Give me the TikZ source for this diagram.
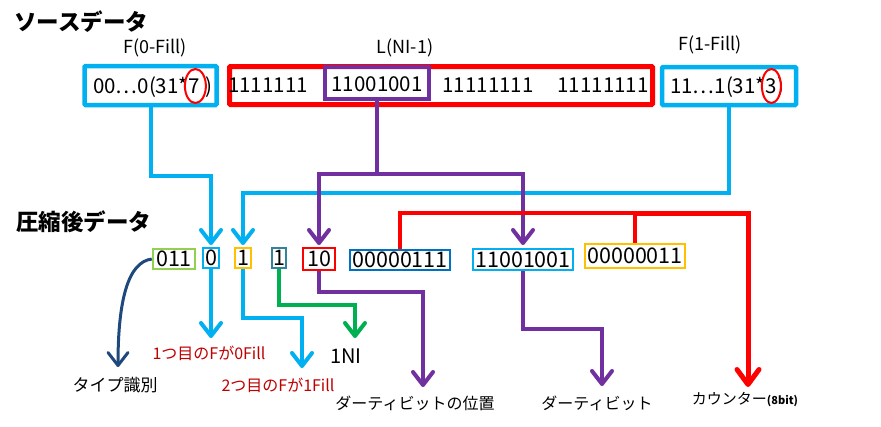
\documentclass[tikz,border=0pt]{standalone}
\usepackage{fontspec}
\setmainfont{Noto Sans CJK JP}
\usetikzlibrary{arrows.meta}
\definecolor{cy}{HTML}{00B0F0}
\definecolor{rd}{HTML}{FF0000}
\definecolor{pu}{HTML}{7030A0}
\definecolor{gr}{HTML}{00B050}
\definecolor{yl}{HTML}{FFC000}
\definecolor{lg}{HTML}{92D050}
\definecolor{tl}{HTML}{31849B}
\definecolor{db}{HTML}{0070C0}
\definecolor{nv}{HTML}{1F497D}
\definecolor{dr}{HTML}{C00000}
\begin{document}
\begin{tikzpicture}[x=1pt,y=-1pt,
  topbox/.style={draw, line width=4.5pt, rounded corners=1pt, inner sep=0pt},
  botbox/.style={draw, line width=2.5pt, inner sep=0pt, font=\fontsize{21.5}{21.5}\selectfont},
  dig/.style={inner sep=0pt, font=\fontsize{20.5}{20.5}\selectfont},
  bdig/.style={dig, anchor=base west},
  titletxt/.style={inner sep=0pt, anchor=west, font=\fontsize{22.5}{22.5}\selectfont\bfseries},
  captxt/.style={inner sep=0pt, font=\fontsize{18}{18}\selectfont},
  lab/.style={inner sep=0pt, font=\fontsize{16}{16}\selectfont},
  rlab/.style={inner sep=0pt, text=dr, font=\fontsize{16}{16}\selectfont},
  ar/.style={-{Straight Barb[length=13pt,width=20pt,round]}},
  cyl/.style={draw=cy, line width=4pt},
  pul/.style={draw=pu, line width=4pt},
  grl/.style={draw=gr, line width=4pt},
  ovl/.style={draw=rd, line width=2pt}]
\useasboundingbox[fill=white] (0,0) rectangle (881,426);

% titles
\node[titletxt] (t1) at (14,22) {ソースデータ};
\node[titletxt] (t2) at (16,222) {圧縮後データ};

% captions
\node[captxt] (c1) at (155,48) {F(0-Fill)};
\node[captxt] (c2) at (405,48) {L(NI-1)};
\node[captxt] (c3) at (710,45) {F(1-Fill)};

% top boxes
\node[topbox, draw=rd, line width=5pt, minimum width=423pt, minimum height=38pt] (L) at (441,85.5) {};
\node[topbox, draw=cy, minimum width=132pt, minimum height=39pt] (b1) at (150.5,85.5) {};
\node[topbox, draw=cy, minimum width=134pt, minimum height=38pt] (b2) at (729,86) {};
\node[bdig] (b1a) at (93,93) {00…0(31*};
\node[bdig] (b1b) at (b1a.base east) {7};
\node[bdig] (b1c) at ([xshift=5pt]b1b.base east) {)};
\node[bdig] (b2a) at (670,93) {11…1(31*};
\node[bdig] (b2b) at (b2a.base east) {3};
\node[bdig] (b2c) at (b2b.base east) {)};
\node[dig] (l1) at (268,85) {1111111};
\node[draw=pu, line width=4pt, inner sep=0pt, minimum width=104pt, minimum height=32pt] (pp) at (377,83) {};
\node[dig] (l2) at (377,84) {11001001};
\node[dig] (l3) at (488,85) {11111111};
\node[dig] (l4) at (603,85) {11111111};
\draw[ovl] ([xshift=1pt]b1b.center |- 0,86) ellipse [x radius=10.5, y radius=17];
\draw[ovl] (b2b.center |- 0,86) ellipse [x radius=9.5, y radius=17];

% bottom boxes
\node[botbox, draw=lg, minimum width=42pt, minimum height=20pt] (z011) at (174,259) {011};
\node[botbox, draw=cy, minimum width=16pt, minimum height=20pt] (z0) at (211,258) {0};
\node[botbox, draw=yl, minimum width=16pt, minimum height=20pt] (z1) at (243,258) {1};
\node[botbox, draw=tl, minimum width=14pt, minimum height=20pt] (z1t) at (279,258) {1};
\node[botbox, draw=rd, minimum width=32pt, minimum height=22pt] (z10) at (319,259) {10};
\node[botbox, draw=db, minimum width=100pt, minimum height=20pt] (zc) at (400,260) {00000111};
\node[botbox, draw=cy, minimum width=100pt, minimum height=21pt] (zd) at (523,259.5) {11001001};
\node[botbox, draw=yl, minimum width=100pt, minimum height=24pt] (zf) at (635,256) {00000011};

% bottom labels
\node[lab, font=\fontsize{17}{17}\selectfont] (typ) at (115,385) {タイプ識別};
\node[rlab] (lab1) at (209,353) {1つ目のFが0Fill};
\node[rlab] (lab2) at (278,385) {2つ目のFが1Fill};
\node[lab, font=\fontsize{20}{20}\selectfont] (ni) at (346,356) {1NI};
\node[lab] (dpos) at (415,403) {ダーティビットの位置};
\node[lab] (dbit) at (597,403) {ダーティビット};
\node[lab, font=\fontsize{15}{15}\selectfont] (cnt) at (745,400) {カウンター{\bfseries\fontsize{11}{11}\selectfont(8bit)}};

% arrow tip coordinates
\coordinate (ttyp) at (118,367);
\coordinate (tlab1) at (211,338);
\coordinate (tlab2) at (302,368);
\coordinate (tni) at (355,338);
\coordinate (tdpos) at (423,387);
\coordinate (tdbit) at (602,386);
\coordinate (tcnt) at (748,387);
\coordinate (tz0) at (211,245);
\coordinate (tz1) at (243,245);
\coordinate (tz10) at (319,245);
\coordinate (tzd) at (523,245);

% top connectors
\draw[cyl, ar] (b1.south) -- ++(0,69) -| (tz0);
\draw[cyl, ar] (b2.south) -- ++(0,86) -| (tz1);
\draw[pul] (pp.south) -- ++(0,73) coordinate (pm);
\draw[pul, ar] (pm) -| (tz10);
\draw[pul, ar] (pm) -| (tzd);

% counter connectors
\coordinate (rbr) at (635,213);
\coordinate (rtop) at (748,213);
\draw[rd, line width=3.5pt] (zc.north) |- (rbr);
\draw[rd, line width=3.5pt] (zf.north) -- (rbr);
\draw[rd, line width=5pt, -{Straight Barb[length=15pt,width=22pt,round]}] (rbr) -- (rtop) -- (tcnt);

% bottom connectors
\draw[nv, line width=3pt, ar] (z011.west) .. controls (128,262) and (118,300) .. (ttyp);
\draw[cyl, ar] (z0.south) -- (tlab1);
\draw[cyl, ar] (z1.south) -- ++(0,49) -| (tlab2);
\draw[grl, ar] (z1t.south) -- ++(0,36) -| (tni);
\draw[pul, ar] (z10.south) -- ++(0,21) -| (tdpos);
\draw[pul, ar] (zd.south) -- ++(0,58) -| (tdbit);
\end{tikzpicture}
\end{document}
